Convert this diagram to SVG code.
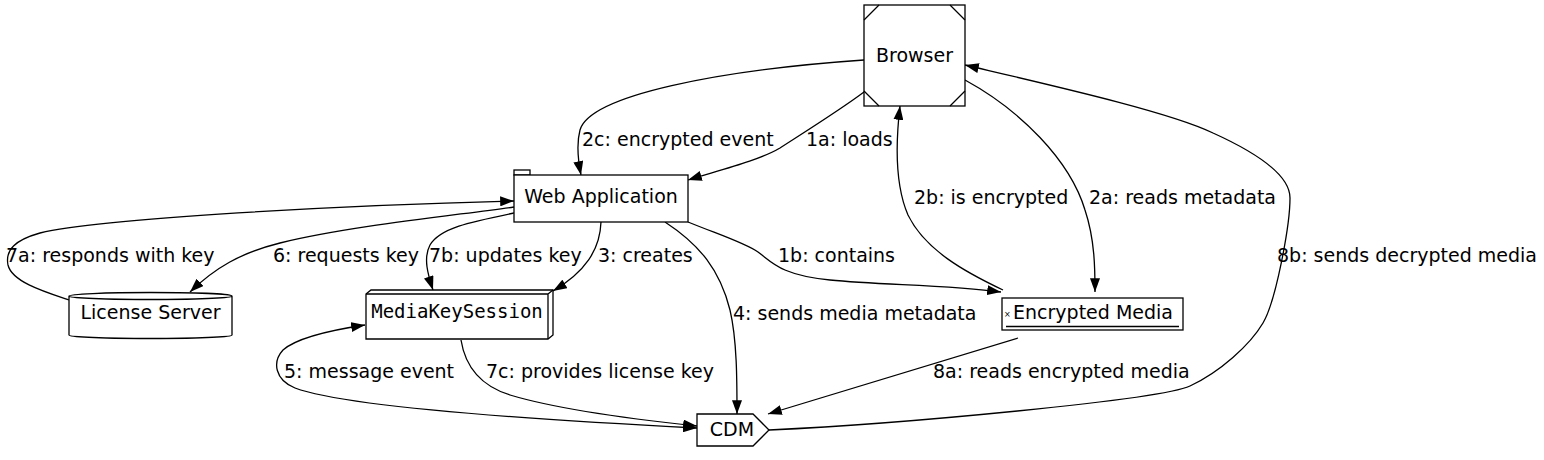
<svg xmlns="http://www.w3.org/2000/svg" width="1544" height="460" viewBox="0 0 1544 460">
<style>
.n{fill:#fff;stroke:#000;stroke-width:1.3}
.l{fill:none;stroke:#000;stroke-width:1.3}
.e{fill:none;stroke:#000;stroke-width:1.3;marker-end:url(#ah)}
text{font-family:"DejaVu Sans",sans-serif;font-size:19px;fill:#000}
.c{text-anchor:middle}
.m{font-family:"DejaVu Sans Mono",monospace}
</style>
<defs>
<marker id="ah" markerUnits="userSpaceOnUse" markerWidth="14" markerHeight="10" viewBox="0 0 13 9.4" refX="13" refY="4.7" orient="auto-start-reverse"><path d="M0,0 L13,4.7 L0,9.4 z" fill="#000"/></marker>
</defs>
<rect width="1544" height="460" fill="#fff"/>
<g id="edges">
<path class="e" d="M864,92 C840,110 800,135 780,148 C760,160 720,170 688,180"/>
<path class="e" d="M864,60 C720,70 590,95 580,130 C576,145 578,160 581,175"/>
<path class="e" d="M688,222 C720,235 745,243 758,252 C772,262 780,275 830,280 C880,285 950,285 1001,292"/>
<path class="e" d="M1003,290 C965,272 925,250 908,215 C895,185 896,140 900,106"/>
<path class="e" d="M965,80 C1020,110 1070,160 1085,210 C1095,240 1095,270 1095,292"/>
<path class="e" d="M769,430 C900,424 1160,400 1190,386 C1220,372 1250,345 1263,323 C1276,301 1290,225 1290,198 C1290,175 1255,152 1213,133 C1170,112 1050,85 965,65"/>
<path class="e" d="M601,222 C600,250 585,272 553,291"/>
<path class="e" d="M665,222 C700,245 720,270 730,310 C737,340 737,380 737,414"/>
<path class="e" d="M514,213 C470,222 440,228 430,245 C423,258 428,275 433,290"/>
<path class="e" d="M514,207 C450,216 350,226 280,243 C240,253 215,268 190,292"/>
<path class="e" d="M69,300 C45,292 12,282 8,265 C5,250 15,240 40,233 C100,218 350,205 514,201"/>
<path class="e" style="marker-start:url(#ah)" d="M365,325 C345,328 300,335 283,350 C272,362 275,380 295,388 C340,405 500,418 697,428"/>
<path class="e" d="M461,340 C465,365 478,385 510,395 C560,410 640,420 697,426"/>
<path class="e" d="M1018,338 L768,414"/>
<text x="582" y="146">2c: encrypted event</text>
<text x="806" y="146">1a: loads</text>
<text x="914" y="204">2b: is encrypted</text>
<text x="1089" y="204">2a: reads metadata</text>
<text x="778" y="262">1b: contains</text>
<text x="598" y="262">3: creates</text>
<text x="429" y="262">7b: updates key</text>
<text x="273" y="262">6: requests key</text>
<text x="6" y="262">7a: responds with key</text>
<text x="1277" y="262">8b: sends decrypted media</text>
<text x="733" y="320">4: sends media metadata</text>
<text x="284" y="378">5: message event</text>
<text x="486" y="378">7c: provides license key</text>
<text x="933" y="378">8a: reads encrypted media</text>
</g>
<g id="browser">
<rect class="n" x="864" y="5" width="101" height="101"/>
<path class="l" d="M864,20 L879,5 M950,5 L965,20 M864,91 L879,106 M950,106 L965,91"/>
<text class="c" x="914.5" y="62">Browser</text>
</g>
<g id="webapp">
<rect class="n" x="514" y="170" width="16" height="5"/>
<rect class="n" x="514" y="175" width="174" height="47"/>
<text class="c" x="601" y="203">Web Application</text>
</g>
<g id="licenseserver">
<path class="n" d="M69,296 L69,335 A81.5,3.5 0 0 0 232,335 L232,296 A81.5,3.5 0 0 0 69,296 A81.5,3.5 0 0 0 232,296"/>
<text class="c" x="150.5" y="319">License Server</text>
</g>
<g id="mediakeysession">
<path class="n" d="M366,294 L371,290 L553,290 L553,335 L548,339 L366,339 z"/>
<path class="l" d="M366,294 L548,294 L548,339 M548,294 L553,290"/>
<text class="c m" x="457" y="318">MediaKeySession</text>
</g>
<g id="encryptedmedia">
<rect class="n" x="1002" y="298" width="181" height="32"/>
<path class="l" d="M1006,326.5 L1179,326.5"/>
<text x="1004" y="317" style="font-size:8px">×</text>
<text class="c" x="1093" y="319">Encrypted Media</text>
</g>
<g id="cdm">
<path class="n" d="M697,414 L753,414 L769,430 L753,446 L697,446 z"/>
<text class="c" x="732" y="436">CDM</text>
</g>
</svg>
